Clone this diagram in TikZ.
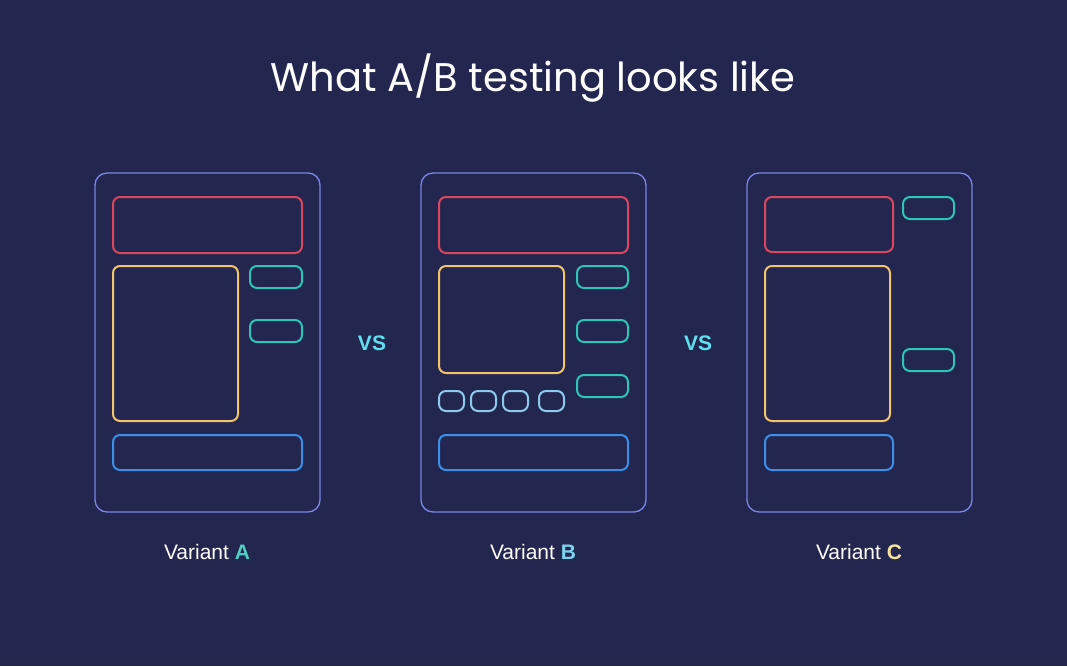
\documentclass[tikz,border=0pt]{standalone}
\usepackage{fontspec}
\setmainfont{Liberation Sans}
\newfontfamily\titlefont{Poppins}
\definecolor{bg}{HTML}{23264F}
\definecolor{frm}{HTML}{7B86E8}
\definecolor{rd}{HTML}{D9465E}
\definecolor{yl}{HTML}{F2C36B}
\definecolor{tl}{HTML}{2EC4B6}
\definecolor{bl}{HTML}{3B8FE8}
\definecolor{dot}{HTML}{8CCBEA}
\definecolor{vs}{HTML}{5FE0F0}
\definecolor{la}{HTML}{4FD1C5}
\definecolor{lb}{HTML}{7FD3F0}
\definecolor{lc}{HTML}{F7E39A}
\begin{document}
\begin{tikzpicture}[x=1pt,y=-1pt,
  fr/.style={draw=frm,line width=1.3pt,rounded corners=12pt},
  bx/.style={line width=2pt,rounded corners=7pt},
  lbl/.style={text=white,font=\fontsize{21}{23}\selectfont}]
\fill[bg] (0,0) rectangle (1067,666);
\node[text=white,font=\titlefont\fontsize{40}{44}\selectfont] (title) at (533,78) {What A/B testing looks like};
% A
\draw[fr] (95,173) rectangle (320,512);
\draw[bx,rd] (113,197) rectangle (302,253);
\draw[bx,yl] (113,266) rectangle (238,421);
\draw[bx,tl] (250,266) rectangle (302,288);
\draw[bx,tl] (250,320) rectangle (302,342);
\draw[bx,bl] (113,435) rectangle (302,470);
% B
\draw[fr] (421,173) rectangle (646,512);
\draw[bx,rd] (439,197) rectangle (628,253);
\draw[bx,yl] (439,266) rectangle (564,373);
\draw[bx,tl] (577,266) rectangle (628,288);
\draw[bx,tl] (577,320) rectangle (628,342);
\draw[bx,tl] (577,375) rectangle (628,397);
\foreach \x in {439,471,503,539}
  \draw[bx,dot,rounded corners=7pt] (\x,391) rectangle (\x+25,411);
\draw[bx,bl] (439,435) rectangle (628,470);
% C
\draw[fr] (747,173) rectangle (972,512);
\draw[bx,rd] (765,197) rectangle (893,252);
\draw[bx,tl] (903,197) rectangle (954,219);
\draw[bx,tl] (903,349) rectangle (954,371);
\draw[bx,yl] (765,266) rectangle (890,421);
\draw[bx,bl] (765,435) rectangle (893,470);
% vs
\node[text=vs,font=\bfseries\fontsize{21}{23}\selectfont] (vs1) at (372,343) {VS};
\node[text=vs,font=\bfseries\fontsize{21}{23}\selectfont] (vs2) at (698,343) {VS};
% labels
\node[lbl] (va) at (207,552) {Variant \textbf{\color{la}A}};
\node[lbl] (vb) at (533,552) {Variant \textbf{\color{lb}B}};
\node[lbl] (vc) at (859,552) {Variant \textbf{\color{lc}C}};
\end{tikzpicture}
\end{document}
